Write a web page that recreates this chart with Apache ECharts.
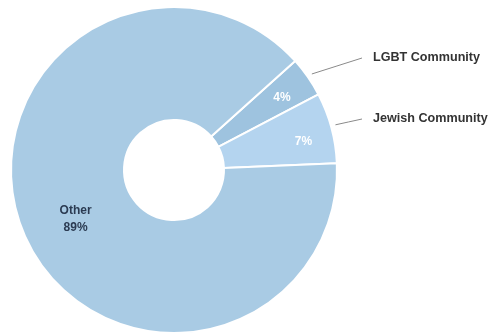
<!DOCTYPE html>
<html><head><meta charset="utf-8">
<script src="https://cdn.jsdelivr.net/npm/echarts@6/dist/echarts.min.js"></script>
<style>html,body{margin:0;padding:0;background:#fff}#c{width:490px;height:336px}</style>
</head><body><div id="c"></div>
<script>
var categories = ['LGBT Community', 'Jewish Community', 'Other'];
var values = [4, 7, 89];
var colors = ['#9ec3df', '#b4d4ef', '#a9cbe4'];

var chart = echarts.init(document.getElementById('c'));
var center = [174, 170];
var mainData = categories.map(function (c, i) {
  var d = { name: c, value: values[i], itemStyle: { color: colors[i] } };
  if (c === 'Other') {
    d.label = { show: true, position: 'inside', formatter: '{b}\n{d}%', color: '#2b3b52', fontWeight: 'bold', fontSize: 12, lineHeight: 17, fontFamily: 'Liberation Sans', offset: [3, 8] };
    d.labelLine = { show: false };
  } else {
    d.label = { show: true, position: 'outside', formatter: '{b}', color: '#333', fontWeight: 'bold', fontSize: 12.6, fontFamily: 'Liberation Sans', overflow: 'none', width: 150 };
    d.labelLine = { show: true, lineStyle: { color: '#8a8a8a', width: 1 } };
  }
  return d;
});
var pctOffsets = { 'LGBT Community': [-2, 4], 'Jewish Community': [0, 6] };
var pctData = categories.map(function (c, i) {
  return { name: c, value: values[i], label: { show: c !== 'Other', offset: pctOffsets[c] || [0, 0] } };
});
function layoutFor(p, y) {
  var s = p.labelLinePoints ? p.labelLinePoints[0] : null;
  var out = { x: 373, y: y, align: 'left', verticalAlign: 'middle' };
  if (s) {
    var sx = s[0] + 4, sy = s[1] - 3;
    out.labelLinePoints = [[sx, sy], [(sx + 362) / 2, (sy + y) / 2], [362, y]];
  }
  return out;
}
chart.setOption({
  animation: false,
  series: [
    {
      type: 'pie', center: center, radius: [50, 163], startAngle: 42, clockwise: true,
      silent: true,
      itemStyle: { borderColor: '#fff', borderWidth: 2 },
      data: mainData,
      labelLayout: function (p) {
        if (p.text === 'LGBT Community') return layoutFor(p, 58);
        if (p.text === 'Jewish Community') return layoutFor(p, 119);
        return {};
      }
    },
    {
      type: 'pie', center: center, radius: [50, 212], startAngle: 42, clockwise: true,
      silent: true,
      itemStyle: { color: 'rgba(0,0,0,0)' },
      label: { position: 'inside', formatter: '{d}%', color: '#fff', fontWeight: 'bold', fontSize: 12, fontFamily: 'Liberation Sans' },
      labelLine: { show: false },
      data: pctData
    }
  ]
});
</script></body></html>
